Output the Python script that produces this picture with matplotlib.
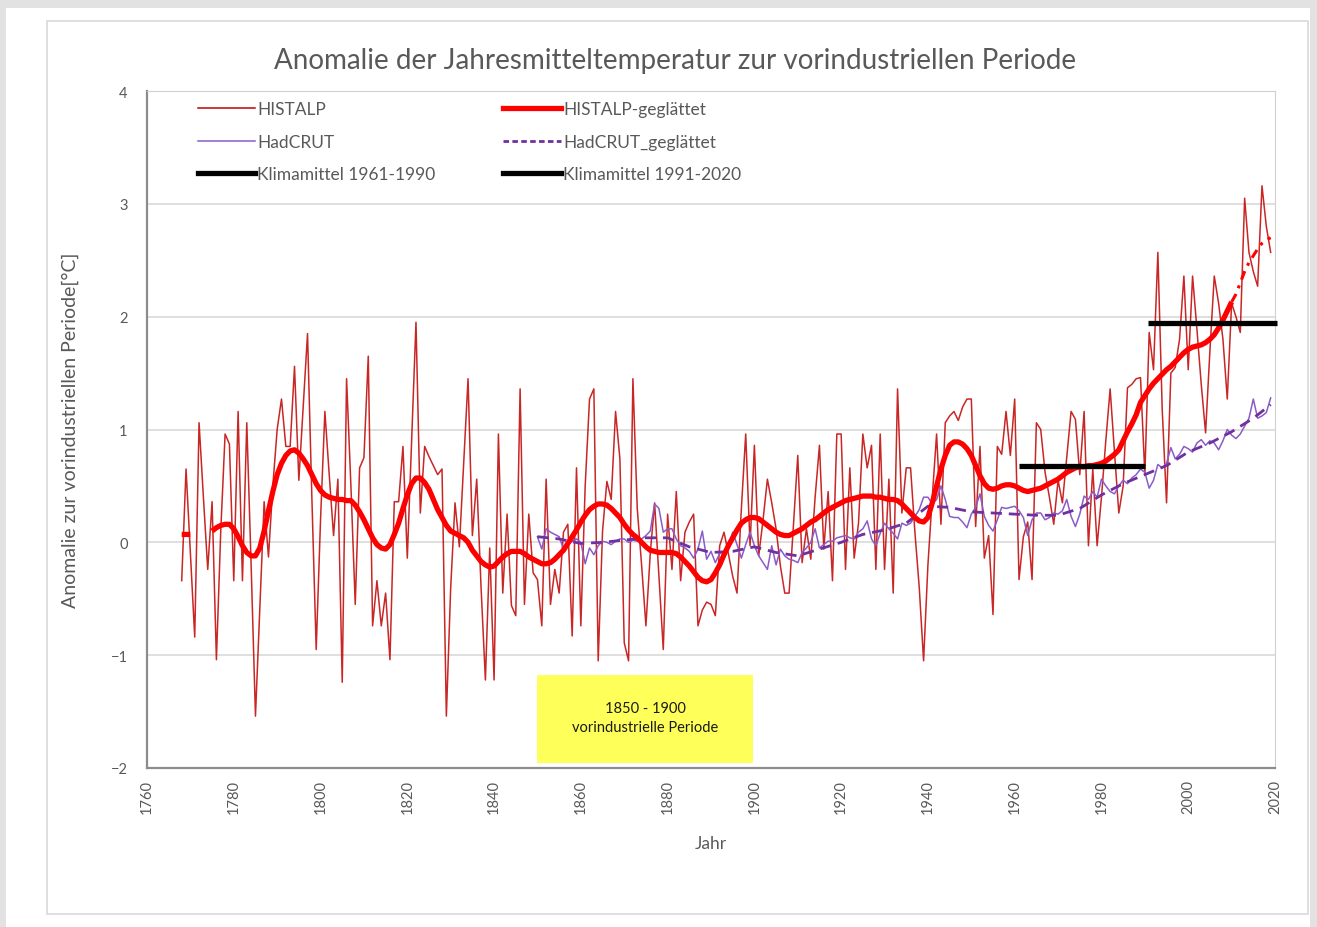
import numpy as np
import matplotlib
matplotlib.use('Agg')
import matplotlib.pyplot as plt
from matplotlib.patches import Rectangle
from matplotlib.lines import Line2D

plt.rcParams['font.family'] = ['Lato', 'DejaVu Sans']

# HISTALP Jahresmittel, Anomalie zu 1850-1900 [°C], ab 1768
histalp_start = 1768
histalp = [
    -0.34, 0.65,
    -0.10, -0.84, 1.06, 0.40, -0.24, 0.36, -1.04, 0.10, 0.96, 0.87,   # 1770
    -0.34, 1.16, -0.34, 1.06, -0.20, -1.54, -0.60, 0.36, -0.13, 0.50,  # 1780
    1.00, 1.27, 0.85, 0.85, 1.56, 0.55, 1.20, 1.85, 0.40, -0.95,       # 1790
    0.20, 1.16, 0.60, 0.06, 0.56, -1.24, 1.45, 0.50, -0.55, 0.66,      # 1800
    0.75, 1.65, -0.74, -0.34, -0.74, -0.45, -1.04, 0.36, 0.36, 0.85,   # 1810
    -0.14, 0.90, 1.95, 0.26, 0.85, 0.76, 0.68, 0.60, 0.65, -1.54,      # 1820
    -0.40, 0.35, -0.04, 0.70, 1.45, 0.06, 0.56, -0.40, -1.22, -0.05,   # 1830
    -1.22, 0.96, -0.45, 0.25, -0.56, -0.65, 1.36, -0.55, 0.25, -0.27,  # 1840
    -0.33, -0.74, 0.56, -0.55, -0.24, -0.45, 0.09, 0.16, -0.83, 0.66,  # 1850
    -0.74, 0.50, 1.27, 1.36, -1.05, 0.10, 0.54, 0.38, 1.16, 0.74,      # 1860
    -0.89, -1.05, 1.45, 0.30, -0.20, -0.74, -0.10, 0.35, -0.30, -0.95, # 1870
    0.25, -0.24, 0.45, -0.34, 0.09, 0.18, 0.25, -0.74, -0.60, -0.53,   # 1880
    -0.55, -0.65, -0.03, 0.09, -0.10, -0.30, -0.45, 0.30, 0.96, -0.03, # 1890
    0.86, -0.12, 0.20, 0.56, 0.35, 0.12, -0.21, -0.45, -0.45, 0.15,    # 1900
    0.77, -0.18, 0.12, -0.15, 0.40, 0.86, -0.06, 0.45, -0.34, 0.96,    # 1910
    0.96, -0.24, 0.66, -0.14, 0.17, 0.96, 0.66, 0.86, -0.24, 0.96,     # 1920
    -0.24, 0.56, -0.45, 1.36, 0.26, 0.66, 0.66, 0.09, -0.40, -1.05,    # 1930
    -0.20, 0.40, 0.96, 0.16, 1.06, 1.12, 1.16, 1.08, 1.20, 1.27,       # 1940
    1.27, 0.14, 0.85, -0.14, 0.06, -0.64, 0.85, 0.78, 1.16, 0.77,      # 1950
    1.27, -0.33, 0.05, 0.18, -0.33, 1.06, 1.00, 0.62, 0.40, 0.16,      # 1960
    0.55, 0.35, 0.75, 1.16, 1.09, 0.60, 1.16, -0.03, 0.65, -0.03,      # 1970
    0.40, 0.90, 1.36, 0.80, 0.26, 0.50, 1.37, 1.40, 1.45, 1.46,        # 1980
    0.60, 1.86, 1.53, 2.57, 1.18, 0.35, 1.50, 1.55, 1.80, 2.36,        # 1990
    1.53, 2.36, 1.89, 1.40, 0.97, 1.70, 2.36, 2.12, 1.80, 1.27,        # 2000
    2.12, 2.00, 1.86, 3.05, 2.57, 2.40, 2.27, 3.16, 2.80, 2.57,        # 2010
]

nan = np.nan
histalp_smooth = [
    0.07, 0.07,
    0.07, nan, nan, 0.08, nan, 0.10, 0.13, 0.15, 0.16, 0.16,           # 1770
    0.12, 0.05, -0.03, -0.09, -0.12, -0.12, -0.05, 0.10, 0.28, 0.45,   # 1780
    0.60, 0.70, 0.77, 0.81, 0.82, 0.79, 0.74, 0.68, 0.60, 0.52,        # 1790
    0.46, 0.42, 0.40, 0.39, 0.38, 0.38, 0.37, 0.37, 0.33, 0.27,        # 1800
    0.20, 0.12, 0.04, -0.02, -0.05, -0.06, -0.02, 0.07, 0.17, 0.30,    # 1810
    0.42, 0.52, 0.57, 0.57, 0.53, 0.47, 0.38, 0.29, 0.22, 0.15,        # 1820
    0.10, 0.08, 0.06, 0.04, 0.00, -0.07, -0.12, -0.17, -0.20, -0.22,   # 1830
    -0.21, -0.17, -0.13, -0.10, -0.08, -0.08, -0.08, -0.10, -0.13, -0.15,  # 1840
    -0.17, -0.19, -0.19, -0.18, -0.15, -0.11, -0.07, -0.01, 0.05, 0.11,    # 1850
    0.18, 0.24, 0.29, 0.32, 0.34, 0.34, 0.33, 0.30, 0.26, 0.22,        # 1860
    0.16, 0.11, 0.07, 0.04, 0.00, -0.04, -0.07, -0.08, -0.09, -0.09,   # 1870
    -0.09, -0.09, -0.10, -0.13, -0.17, -0.21, -0.26, -0.31, -0.34, -0.35,  # 1880
    -0.33, -0.27, -0.20, -0.11, -0.03, 0.04, 0.11, 0.17, 0.20, 0.22,   # 1890
    0.22, 0.21, 0.18, 0.15, 0.12, 0.09, 0.07, 0.06, 0.06, 0.08,        # 1900
    0.10, 0.12, 0.15, 0.18, 0.20, 0.23, 0.26, 0.29, 0.31, 0.33,        # 1910
    0.35, 0.37, 0.38, 0.39, 0.40, 0.41, 0.41, 0.41, 0.40, 0.40,        # 1920
    0.39, 0.38, 0.38, 0.37, 0.34, 0.30, 0.26, 0.22, 0.19, 0.18,        # 1930
    0.22, 0.35, 0.50, 0.65, 0.77, 0.86, 0.89, 0.89, 0.87, 0.83,        # 1940
    0.77, 0.68, 0.59, 0.52, 0.48, 0.47, 0.48, 0.50, 0.51, 0.51,        # 1950
    0.50, 0.48, 0.46, 0.45, 0.46, 0.47, 0.48, 0.50, 0.52, 0.54,        # 1960
    0.56, 0.59, 0.62, 0.64, 0.66, 0.67, 0.67, 0.68, 0.68, 0.69,        # 1970
    0.70, 0.72, 0.75, 0.78, 0.82, 0.90, 0.98, 1.05, 1.13, 1.24,        # 1980
    1.30, 1.36, 1.41, 1.45, 1.49, 1.53, 1.56, 1.60, 1.64, 1.68,        # 1990
    1.71, 1.73, 1.74, 1.75, 1.77, 1.80, 1.84, 1.90, 1.97, 2.05,        # 2000
    2.13,
]
# letzter Abschnitt der Glättung (unsicher, gestrichelt)
smooth_tail_start = 2010
histalp_smooth_tail = [2.13, 2.20, 2.30, 2.40, 2.48, 2.54, 2.60, 2.65, 2.68, 2.70]

# HadCRUT global, ab 1850
hadcrut_start = 1850
hadcrut = [
    0.05, -0.06, 0.12, 0.09, 0.07, 0.05, -0.06, -0.02, 0.01, 0.03,     # 1850
    0.00, -0.19, -0.05, -0.11, -0.03, 0.01, 0.00, -0.02, 0.01, 0.03,   # 1860
    0.03, 0.00, 0.02, 0.01, 0.03, 0.06, 0.10, 0.34, 0.30, 0.09,        # 1870
    0.12, 0.12, 0.03, -0.03, -0.05, -0.08, -0.14, -0.06, 0.10, -0.15,  # 1880
    -0.08, -0.18, -0.10, -0.08, -0.05, 0.09, -0.02, -0.14, -0.02, 0.09,  # 1890
    -0.03, -0.12, -0.18, -0.24, -0.03, -0.20, -0.06, -0.12, -0.15, -0.16,  # 1900
    -0.18, -0.09, -0.05, 0.00, 0.12, -0.05, -0.02, 0.01, 0.01, 0.04,   # 1910
    0.05, 0.06, 0.04, 0.03, 0.09, 0.12, 0.19, 0.03, -0.03, 0.08,       # 1920
    0.17, 0.12, 0.08, 0.03, 0.17, 0.15, 0.17, 0.23, 0.29, 0.40,        # 1930
    0.40, 0.34, 0.38, 0.50, 0.38, 0.23, 0.22, 0.22, 0.18, 0.13,        # 1940
    0.25, 0.31, 0.43, 0.23, 0.15, 0.10, 0.20, 0.31, 0.30, 0.31,        # 1950
    0.32, 0.28, 0.22, 0.06, 0.20, 0.26, 0.26, 0.20, 0.22, 0.26,        # 1960
    0.25, 0.28, 0.38, 0.23, 0.14, 0.25, 0.41, 0.38, 0.45, 0.40,        # 1970
    0.56, 0.50, 0.45, 0.43, 0.50, 0.55, 0.52, 0.57, 0.60, 0.65,        # 1980
    0.62, 0.48, 0.55, 0.69, 0.66, 0.70, 0.84, 0.74, 0.78, 0.85,        # 1990
    0.83, 0.80, 0.88, 0.91, 0.86, 0.90, 0.88, 0.82, 0.90, 1.00,        # 2000
    0.95, 0.92, 0.96, 1.03, 1.10, 1.27, 1.10, 1.12, 1.15, 1.28,        # 2010
]

hadcrut_smooth_years = [1850, 1855, 1860, 1865, 1870, 1875, 1880, 1885, 1890, 1895,
                        1900, 1905, 1910, 1915, 1920, 1925, 1930, 1935, 1940, 1945,
                        1950, 1955, 1960, 1965, 1970, 1975, 1980, 1985, 1990, 1995,
                        2000, 2005, 2010, 2015, 2019]
hadcrut_smooth = [0.05, 0.03, -0.01, 0.00, 0.02, 0.04, 0.04, -0.04, -0.09, -0.08,
                  -0.04, -0.09, -0.12, -0.06, 0.00, 0.07, 0.11, 0.17, 0.32, 0.31,
                  0.27, 0.26, 0.25, 0.24, 0.24, 0.30, 0.42, 0.52, 0.60, 0.68,
                  0.80, 0.88, 0.98, 1.10, 1.22]

klima_1961_1990 = 0.68
klima_1991_2020 = 1.94

histalp_years = np.arange(histalp_start, histalp_start + len(histalp))
smooth_years = np.arange(histalp_start, histalp_start + len(histalp_smooth))
tail_years = np.arange(smooth_tail_start, smooth_tail_start + len(histalp_smooth_tail))
hadcrut_years = np.arange(hadcrut_start, hadcrut_start + len(hadcrut))

W, H = 1317, 928
fig = plt.figure(figsize=(W / 100, H / 100), dpi=100, facecolor='#e2e2e2')
# weisse Seite und Diagrammrahmen (hinter den Achsen)
fig.patches.append(Rectangle((6 / W, 0), 1304 / W, 1 - 9 / H, transform=fig.transFigure,
                             facecolor='white', edgecolor='none', zorder=-10))
fig.patches.append(Rectangle((47 / W, 1 - 915 / H), 1261 / W, 893 / H, transform=fig.transFigure,
                             facecolor='white', edgecolor='#d9d9d9', lw=1.2, zorder=-9))

ax = fig.add_axes([147 / W, 1 - 769 / H, 1128 / W, 677 / H])
ax.set_zorder(2)
ax.set_facecolor('white')

ax.plot(histalp_years, histalp, color='#c00000', lw=1.1, alpha=0.85, label='HISTALP', zorder=3)
ax.plot(smooth_years, histalp_smooth, color='#ff0000', lw=3.8, label='HISTALP-geglättet',
        solid_capstyle='butt', zorder=5)
ax.plot(tail_years, histalp_smooth_tail, color='#ff0000', lw=2.2, ls=(0, (3, 2, 1, 2)), zorder=5)
ax.plot(hadcrut_years, hadcrut, color='#8a5cc7', lw=1.1, label='HadCRUT', zorder=4)
ax.plot(hadcrut_smooth_years, hadcrut_smooth, color='#7030a0', lw=2.0, ls=(0, (4, 2.5)),
        label='HadCRUT_geglättet', zorder=4)
ax.plot([1961, 1990], [klima_1961_1990] * 2, color='black', lw=3.8, zorder=6,
        solid_capstyle='butt', label='Klimamittel 1961-1990')
ax.plot([1990.8, 2020.5], [klima_1991_2020] * 2, color='black', lw=3.8, zorder=6,
        solid_capstyle='butt', label='Klimamittel 1991-2020', clip_on=False)

ax.set_xlim(1760, 2020)
ax.set_ylim(-2, 4)
ax.set_xticks(range(1760, 2021, 20))
ax.set_yticks(range(-2, 5))
ax.tick_params(axis='x', rotation=90, length=0, pad=8, labelsize=10.5, labelcolor='#595959')
ax.tick_params(axis='y', length=0, pad=14, labelsize=10.5, labelcolor='#595959')
ax.grid(axis='y', color='#d9d9d9', lw=1.2)
ax.set_axisbelow(True)
for side in ['top', 'right']:
    ax.spines[side].set_color('#d0d0d0')
for side in ['left', 'bottom']:
    ax.spines[side].set_color('#8c8c8c')
    ax.spines[side].set_linewidth(1.6)

ax.set_xlabel('Jahr', fontsize=12.5, color='#595959', labelpad=16)
ax.set_ylabel('Anomalie zur vorindustriellen Periode[°C]', fontsize=14, color='#595959', labelpad=23)
fig.text(675 / W, 1 - 61 / H, 'Anomalie der Jahresmitteltemperatur zur vorindustriellen Periode',
         ha='center', va='center', fontsize=20, color='#595959')

# vorindustrielle Periode
ax.add_patch(Rectangle((1850, -1.96), 49.7, 0.78, facecolor='#ffff59', edgecolor='none', zorder=7))
ax.text(1874.8, -1.55, '1850 - 1900\nvorindustrielle Periode', ha='center', va='center',
        fontsize=10.5, color='#1a1a1a', linespacing=1.45, zorder=8)

handles = [
    Line2D([], [], color='#c00000', lw=1.1),
    Line2D([], [], color='#8a5cc7', lw=1.1),
    Line2D([], [], color='black', lw=3.8),
    Line2D([], [], color='#ff0000', lw=3.8),
    Line2D([], [], color='#7030a0', lw=2.0, ls=(0, (2, 1.2))),
    Line2D([], [], color='black', lw=3.8),
]
labels = ['HISTALP', 'HadCRUT', 'Klimamittel 1961-1990',
          'HISTALP-geglättet', 'HadCRUT_geglättet', 'Klimamittel 1991-2020']
leg = ax.legend(handles, labels, ncol=2, loc='upper left', bbox_to_anchor=(0.031, 1.008),
                frameon=False, fontsize=12.5, handlelength=3.3, handletextpad=0.15,
                columnspacing=3.9, labelspacing=0.95, labelcolor='#595959')

fig.savefig('out.png', dpi=100, facecolor=fig.get_facecolor())
